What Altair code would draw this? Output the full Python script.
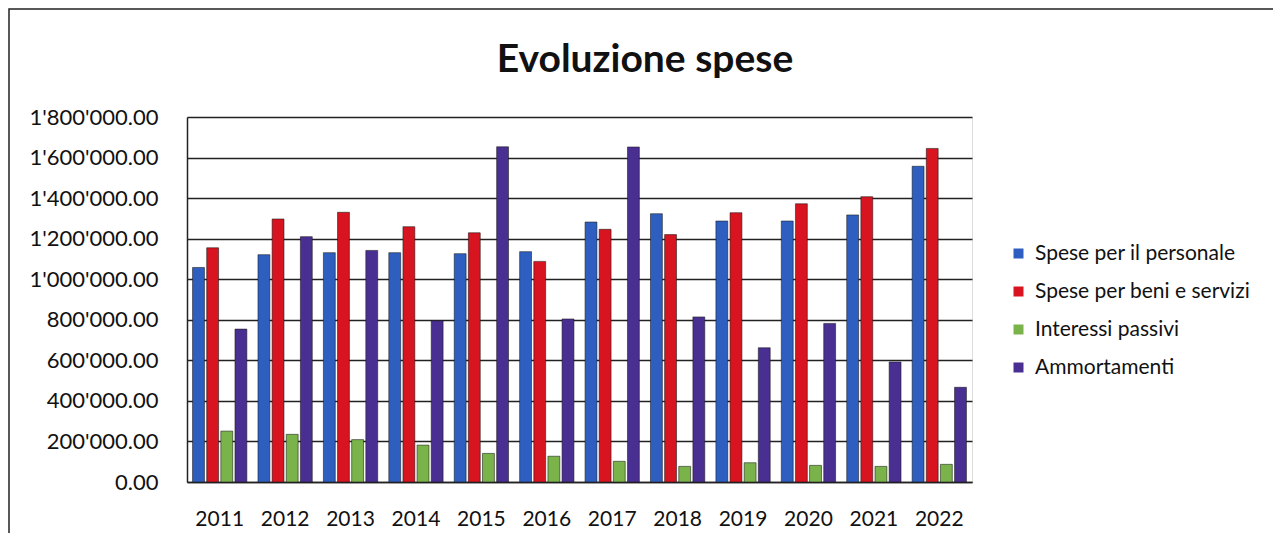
import altair as alt
import pandas as pd

title_text = ["Evoluzione spese"]
years = ["2011", "2012", "2013", "2014", "2015", "2016", "2017", "2018", "2019", "2020", "2021", "2022"]
series_names = ["Spese per il personale", "Spese per beni e servizi", "Interessi passivi", "Ammortamenti"]
personale = [1058000, 1121000, 1131000, 1131000, 1126000, 1136000, 1282000, 1323000, 1287000, 1287000, 1317000, 1557000]
beni_servizi = [1155000, 1297000, 1330000, 1259000, 1229000, 1088000, 1246000, 1220000, 1328000, 1372000, 1407000, 1645000]
interessi = [251000, 235000, 209000, 182000, 141000, 127000, 102000, 77000, 95000, 82000, 77000, 87000]
ammortamenti = [754000, 1210000, 1142000, 795000, 1653000, 804000, 1652000, 814000, 662000, 782000, 592000, 467000]
colors = ["#2e5fc0", "#d7141f", "#7bb34b", "#4a2f93"]

rows = []
for name, vals in zip(series_names, [personale, beni_servizi, interessi, ammortamenti]):
    for y, v in zip(years, vals):
        rows.append({"Anno": y, "Serie": name, "Valore": v})
df = pd.DataFrame(rows)

FONT = "Lato"

bars = alt.Chart(df).mark_bar(stroke="#1a1a1a", strokeWidth=0.8, strokeOpacity=0.7).encode(
    x=alt.X("Anno:N", sort=years, title=None,
            scale=alt.Scale(paddingInner=0.17, paddingOuter=0.085),
            axis=alt.Axis(labelAngle=0, labelFontSize=21, labelPadding=26, ticks=False,
                          domainColor="#222", domainWidth=1.5, labelColor="#111", labelFont=FONT)),
    xOffset=alt.XOffset("Serie:N", sort=series_names, scale=alt.Scale(paddingInner=0.16, paddingOuter=0)),
    y=alt.Y("Valore:Q", title=None,
            scale=alt.Scale(domain=[0, 1800000], nice=False),
            axis=alt.Axis(values=list(range(0, 1800001, 200000)), labelFontSize=22, labelPadding=29,
                          ticks=False, domainColor="#222", domainWidth=1.5, gridColor="#222",
                          gridWidth=1.5, labelColor="#111", labelFont=FONT,
                          labelExpr="join(split(format(datum.value, ',.2f'), ','), \"'\")")),
    color=alt.Color("Serie:N", sort=series_names,
                    scale=alt.Scale(domain=series_names, range=colors),
                    legend=alt.Legend(title=None, orient="none", legendX=821, legendY=126,
                                      labelFontSize=21, labelFont=FONT, labelColor="#111",
                                      labelLimit=400,
                                      symbolType="square", symbolSize=100, symbolStrokeWidth=0,
                                      rowPadding=16, labelOffset=6)),
)

frame = alt.Chart(pd.DataFrame({"k": [0]})).mark_rect(fill=None, stroke="#222", strokeWidth=1.5).encode(
    x=alt.value(-178), x2=alt.value(1090), y=alt.value(-108), y2=alt.value(445)
)

title = alt.Chart(pd.DataFrame({"t": title_text})).mark_text(
    font=FONT, fontSize=39, fontWeight="bold", color="#111", align="center", baseline="alphabetic"
).encode(text="t:N", x=alt.value(458), y=alt.value(-45))

chart = alt.layer(frame, bars, title).properties(
    width=785, height=365,
    autosize=alt.AutoSizeParams(type="none"),
    padding={"left": 179, "top": 109, "right": 301, "bottom": 51},
).configure_view(stroke=None).configure(background="white")

chart.save("out.html", embed_options={"renderer": "svg", "actions": False})
